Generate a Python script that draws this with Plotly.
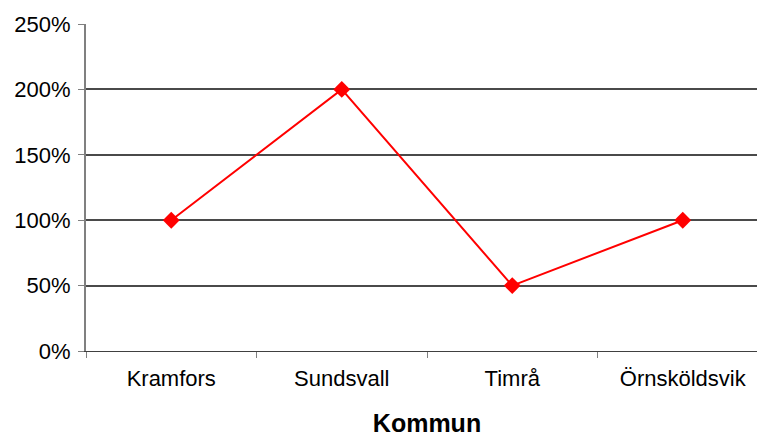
import plotly.graph_objects as go

categories = ["Kramfors", "Sundsvall", "Timrå", "Örnsköldsvik"]
values = [1.0, 2.0, 0.5, 1.0]
y_ticks = [0, 0.5, 1.0, 1.5, 2.0, 2.5]
y_tick_labels = ["0%", "50%", "100%", "150%", "200%", "250%"]

fig = go.Figure()
fig.add_trace(go.Scatter(
    x=categories, y=values, mode="lines+markers",
    line=dict(color="#FF0000", width=2),
    marker=dict(symbol="diamond", size=13, color="#FF0000"),
    showlegend=False,
))

font = dict(family="Liberation Sans, Arial, sans-serif", size=22, color="#000")
fig.update_layout(
    width=765, height=437,
    margin=dict(l=78, r=5, t=16, b=94),
    paper_bgcolor="white", plot_bgcolor="white",
    font=font,
    xaxis=dict(
        type="category", tickson="boundaries", ticks="outside", ticklen=6,
        tickcolor="#808080", showgrid=False, showline=True, linecolor="#404040",
        linewidth=1, range=[-0.5, 3.5], automargin=False,
        ticklabelstandoff=8,
        title=dict(text="<b>Kommun</b>", font=dict(size=25), standoff=24),
        tickfont=dict(size=22),
    ),
    yaxis=dict(
        range=[0, 2.5], tickvals=y_ticks, ticktext=y_tick_labels,
        ticks="outside", ticklen=6, tickcolor="#808080", automargin=False,
        showline=True, linecolor="#808080", linewidth=2,
        showgrid=True, gridcolor="#4a4a4a", gridwidth=2,
        zeroline=False, tickfont=dict(size=22), ticklabelstandoff=3,
    ),
)
fig.write_html("out.html")
